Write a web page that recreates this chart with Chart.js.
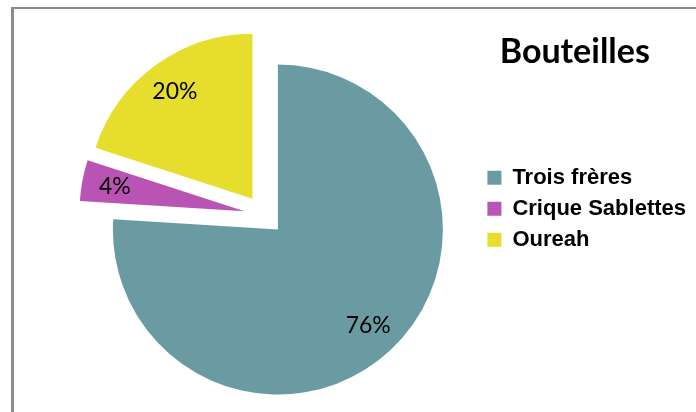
<!DOCTYPE html>
<html>
<head>
<meta charset="utf-8">
<script src="https://cdn.jsdelivr.net/npm/chart.js@4.4.1/dist/chart.umd.min.js"></script>
<style>
  html, body { margin: 0; padding: 0; background: #fff; overflow: hidden; }
  #wrap { position: relative; width: 696px; height: 412px; overflow: hidden; }
  #frame { position: absolute; left: 11px; top: 7px; right: -10px; bottom: -10px;
           border-left: 3px solid #8c8c8c; border-top: 2px solid #8c8c8c; }
  #bottlesPieChart { position: absolute; left: 0; top: 0; }
</style>
</head>
<body>
<div id="wrap">
  <div id="frame"></div>
  <canvas id="bottlesPieChart" width="696" height="430"></canvas>
</div>
<script>
// data
const sites = ['Trois frères', 'Crique Sablettes', 'Oureah'];
const shares = [76, 4, 20];
const shareLabels = ['76%', '4%', '20%'];
const chartTitle = 'Bouteilles';

const sliceColors = ['#6B9BA2', '#B954B4', '#E6DD2C'];

// Chart.js enlarges and narrows exploded slices; undo that so every slice
// keeps the same radius and angle, then write the percentages inside them
const sliceLabels = {
  id: 'sliceLabels',
  beforeDatasetsDraw(chart) {
    chart.getDatasetMeta(0).data.forEach(arc => {
      const t = (arc.options.offset || 0) / 4;
      const grow = t * (1 - Math.sin(Math.min(Math.PI, arc.circumference)));
      arc._saved = [arc.outerRadius, arc.startAngle, arc.endAngle];
      arc.outerRadius -= grow;
      const trim = grow / Math.PI / (arc.outerRadius + grow) / 2;
      arc.startAngle -= trim;
      arc.endAngle += trim;
    });
  },
  afterDatasetsDraw(chart) {
    const ctx = chart.ctx;
    ctx.save();
    ctx.font = '23px Lato, "Open Sans", sans-serif';
    ctx.fillStyle = '#000';
    ctx.textAlign = 'center';
    ctx.textBaseline = 'middle';
    chart.getDatasetMeta(0).data.forEach((arc, i) => {
      [arc.outerRadius, arc.startAngle, arc.endAngle] = arc._saved;
      const mid = (arc.startAngle + arc.endAngle) / 2;
      const r = (arc.options.offset || 0) / 4 + arc.outerRadius * 0.8;
      ctx.fillText(shareLabels[i], arc.x + Math.cos(mid) * r, arc.y + Math.sin(mid) * r);
    });
    ctx.restore();
  }
};

new Chart(document.getElementById('bottlesPieChart'), {
  type: 'pie',
  data: {
    labels: sites,
    datasets: [{
      data: shares,
      backgroundColor: sliceColors,
      borderWidth: 0,
      offset: 80
    }]
  },
  options: {
    responsive: false,
    animation: false,
    radius: 165,
    layout: { padding: { left: 50, top: 0, right: 0, bottom: 0 } },
    plugins: {
      tooltip: { enabled: false },
      legend: {
        position: 'right',
        align: 'start',
        title: {
          display: true,
          // trailing no-break spaces pull the centred title a little left
          text: chartTitle + '\u00a0\u00a0\u00a0',
          position: 'center',
          color: '#000',
          padding: { top: 35, bottom: 82 },
          font: { family: 'Lato, "Open Sans", sans-serif', size: 34, weight: 'bold' }
        },
        labels: {
          boxWidth: 14,
          boxHeight: 14,
          padding: 9,
          color: '#000',
          font: { family: '"Liberation Sans", Arial, sans-serif', size: 22, weight: 'bold' }
        }
      }
    }
  },
  plugins: [sliceLabels]
});
</script>
</body>
</html>
